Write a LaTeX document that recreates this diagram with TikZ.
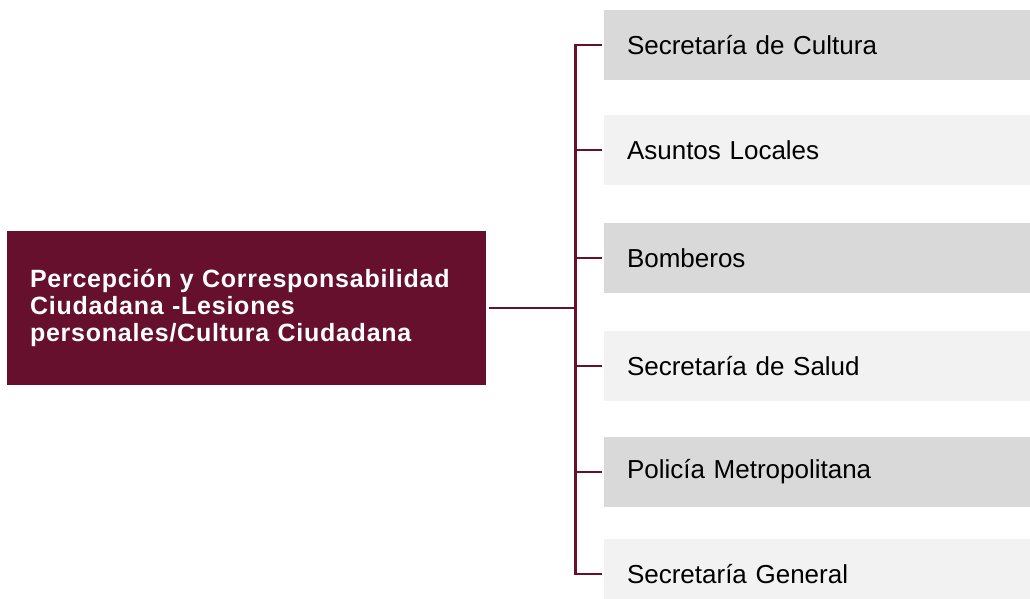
\documentclass[tikz,border=0pt]{standalone}
\usepackage{fontspec}
\setmainfont{Liberation Sans}
\newfontfamily\mainbold[LetterSpace=3]{Liberation Sans}
\definecolor{maroon}{HTML}{66102E}
\definecolor{graydark}{HTML}{D9D9D9}
\definecolor{graylight}{HTML}{F2F2F2}
\begin{document}
\begin{tikzpicture}[x=1pt,y=-1pt,
  mainbox/.style={fill=maroon, draw=none, minimum width=479pt, minimum height=154pt,
    text width=433pt, inner xsep=23pt, inner ysep=0pt, align=left, text=white,
    font=\mainbold\bfseries\fontsize{25}{27.3}\selectfont},
  sidebox/.style={draw=none, minimum width=426pt, minimum height=70pt,
    text width=380pt, inner xsep=23pt, inner ysep=0pt, align=left, text=black,
    font=\fontsize{26}{30}\selectfont},
  dark/.style={sidebox, fill=graydark},
  light/.style={sidebox, fill=graylight},
  link/.style={draw=maroon, line width=2.5pt}]
\useasboundingbox (0,0) rectangle (1030,599);
\clip (0,0) rectangle (1030,599);
\node[mainbox] (main) at (246.5,308) {Percepción y Corresponsabilidad\\Ciudadana -Lesiones\\personales/Cultura Ciudadana};
\node[dark]  (b1) at (817,45)  {Secretaría de Cultura};
\node[light] (b2) at (817,150) {Asuntos Locales};
\node[dark]  (b3) at (817,258) {Bomberos};
\node[light] (b4) at (817,366) {Secretaría de Salud};
\node[dark]  (b5) at (817,472) {Policía Metropolitana};
\node[light] (b6) at (817,574) {Secretaría General};
\coordinate (bt) at (575.5,45);
\coordinate (bb) at (575.5,574);
\draw[link, shorten <=3pt] (main.east) -- (main.east -| bt);
\draw[link, line cap=rect] (bt) -- (bb);
\foreach \b in {b1,b2,b3,b4,b5,b6}{
  \draw[link, shorten >=2pt] (\b.west -| bt) -- (\b.west);
}
\end{tikzpicture}
\end{document}
